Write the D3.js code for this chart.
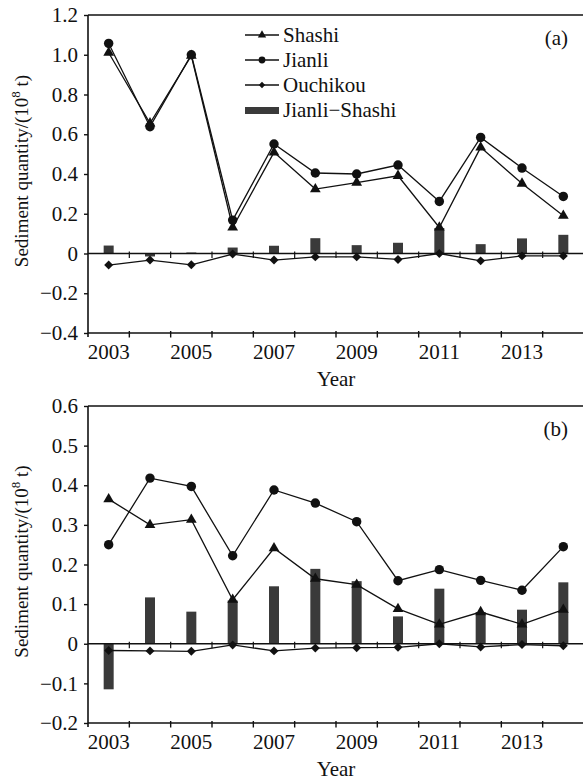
<!DOCTYPE html>
<html>
<head>
<meta charset="utf-8">
<script src="https://cdn.jsdelivr.net/npm/d3@7"></script>
<style>
  html, body { margin: 0; padding: 0; background: #fff; }
  svg { display: block; }
  svg text { font-family: "Liberation Serif", "Times New Roman", Times, serif; }
</style>
</head>
<body>
<svg id="chart" width="583" height="782"></svg>
<script>
// Annual sediment quantities (10^8 t) at three stations, 2003–2014
const years = [2003, 2004, 2005, 2006, 2007, 2008, 2009, 2010, 2011, 2012, 2013, 2014];
const labelYears = [2003, 2005, 2007, 2009, 2011, 2013];

// Panel (a)
const shashiA   = [1.01, 0.655, 0.995, 0.131, 0.509, 0.324, 0.357, 0.391, 0.131, 0.534, 0.352, 0.19];
const jianliA   = [1.057, 0.638, 1.0, 0.168, 0.551, 0.405, 0.40, 0.445, 0.262, 0.584, 0.43, 0.287];
const ouchikouA = [-0.058, -0.033, -0.057, -0.003, -0.033, -0.017, -0.017, -0.03, 0.0, -0.037, -0.012, -0.012];
const diffA     = [0.04, -0.015, 0.005, 0.03, 0.039, 0.077, 0.042, 0.054, 0.128, 0.047, 0.076, 0.094];
const yTicksA   = [-0.4, -0.2, 0, 0.2, 0.4, 0.6, 0.8, 1.0, 1.2];

// Panel (b)
const shashiB   = [0.365, 0.30, 0.313, 0.111, 0.241, 0.164, 0.149, 0.088, 0.049, 0.08, 0.049, 0.086];
const jianliB   = [0.25, 0.418, 0.397, 0.222, 0.388, 0.355, 0.308, 0.159, 0.187, 0.16, 0.135, 0.245];
const ouchikouB = [-0.017, -0.018, -0.019, -0.003, -0.018, -0.011, -0.01, -0.009, 0.0, -0.008, -0.002, -0.005];
const diffB     = [-0.115, 0.117, 0.081, 0.109, 0.145, 0.189, 0.158, 0.069, 0.139, 0.08, 0.086, 0.155];
const yTicksB   = [-0.2, -0.1, 0, 0.1, 0.2, 0.3, 0.4, 0.5, 0.6];

const seriesNames = ["Shashi", "Jianli", "Ouchikou", "Jianli\u2212Shashi"];

const FONT = '"Liberation Serif", "Times New Roman", Times, serif';
const INK = "#111";
const BAR = "#3a3a3a";

const svg = d3.select("#chart");
const x = d3.scaleBand().domain(years).range([88, 584]);
const cx = yr => x(yr) + x.bandwidth() / 2;
const boundaries = years.map(yr => x(yr)).concat([x.range()[1]]);

const fmt = v => (v === 0 ? "0" : (v < 0 ? "\u2212" : "") + d3.format(".1f")(Math.abs(v)));

// Marker shapes: triangle, filled circle, diamond (square turned 45°)
const markers = {
  tri:     { sym: d3.symbol().type(d3.symbolTriangle).size(50), rot: 0 },
  circle:  { sym: d3.symbol().type(d3.symbolCircle).size(70),   rot: 0 },
  diamond: { sym: d3.symbol().type(d3.symbolSquare).size(40),   rot: 45 }
};
const legendMarkers = {
  tri:     { sym: d3.symbol().type(d3.symbolTriangle).size(30), rot: 0 },
  circle:  { sym: d3.symbol().type(d3.symbolCircle).size(36),   rot: 0 },
  diamond: { sym: d3.symbol().type(d3.symbolSquare).size(20),   rot: 45 }
};

function drawMarkers(g, data, m, yScale) {
  g.selectAll(null).data(data).join("path")
    .attr("d", m.sym)
    .attr("transform", d => `translate(${cx(d.yr)},${yScale(d.v)}) rotate(${m.rot})`)
    .attr("fill", INK);
}

function panel(cfg) {
  const y = d3.scaleLinear().domain(cfg.domain).range([cfg.bottom, cfg.top]);
  const g = svg.append("g");
  const x0 = x.range()[0], x1 = x.range()[1];

  // Difference bars
  g.append("g").selectAll("rect")
    .data(years.map((yr, i) => ({ yr, v: cfg.diff[i] })))
    .join("rect")
    .attr("x", d => cx(d.yr) - 5)
    .attr("width", 10)
    .attr("y", d => y(Math.max(0, d.v)))
    .attr("height", d => Math.abs(y(d.v) - y(0)))
    .attr("fill", BAR);

  // Zero line with ticks at year boundaries
  g.append("line")
    .attr("x1", x0).attr("x2", x1).attr("y1", y(0)).attr("y2", y(0))
    .attr("stroke", INK).attr("stroke-width", 1.3);
  g.append("g").selectAll("line").data(boundaries.slice(1, -1)).join("line")
    .attr("x1", d => d).attr("x2", d => d)
    .attr("y1", y(0) - 2).attr("y2", y(0) + 4.5)
    .attr("stroke", INK).attr("stroke-width", 1.2);

  // Lines + markers
  const line = d3.line().x(d => cx(d.yr)).y(d => y(d.v));
  const series = [
    { vals: cfg.ouchikou, m: markers.diamond },
    { vals: cfg.shashi, m: markers.tri },
    { vals: cfg.jianli, m: markers.circle }
  ];
  series.forEach(s => {
    const data = years.map((yr, i) => ({ yr, v: s.vals[i] }));
    g.append("path").datum(data).attr("d", line)
      .attr("fill", "none").attr("stroke", INK).attr("stroke-width", 1.3);
    drawMarkers(g, data, s.m, y);
  });

  // Frame: left axis, top line, bottom axis
  g.append("line").attr("x1", x0).attr("x2", x0).attr("y1", cfg.top).attr("y2", cfg.bottom + 4)
    .attr("stroke", INK).attr("stroke-width", 1.6);
  g.append("line").attr("x1", x0).attr("x2", x1).attr("y1", cfg.top).attr("y2", cfg.top)
    .attr("stroke", INK).attr("stroke-width", 1.6);
  g.append("line").attr("x1", x0).attr("x2", x1).attr("y1", cfg.bottom).attr("y2", cfg.bottom)
    .attr("stroke", INK).attr("stroke-width", 1.6);
  g.append("g").selectAll("line").data(boundaries.slice(1)).join("line")
    .attr("x1", d => d).attr("x2", d => d)
    .attr("y1", cfg.bottom - 2).attr("y2", cfg.bottom + 4.5)
    .attr("stroke", INK).attr("stroke-width", 1.4);

  // Y axis ticks & labels
  const yAxis = d3.axisLeft(y).tickValues(cfg.yTicks).tickSize(4).tickSizeOuter(0).tickPadding(6)
    .tickFormat(fmt);
  const ya = g.append("g").attr("transform", `translate(${x0},0)`).call(yAxis);
  ya.select(".domain").remove();
  ya.selectAll(".tick line").attr("stroke", INK).attr("stroke-width", 1.4);
  ya.selectAll(".tick text").attr("font-family", FONT).attr("font-size", 21).attr("fill", INK);

  // X labels (odd years)
  const xAxis = d3.axisBottom(x).tickValues(labelYears).tickSize(0).tickPadding(11);
  const xa = g.append("g").attr("transform", `translate(0,${cfg.bottom})`).call(xAxis);
  xa.select(".domain").remove();
  xa.selectAll(".tick text").attr("font-family", FONT).attr("font-size", 21).attr("fill", INK);

  // Axis titles
  g.append("text")
    .attr("x", (x0 + x1) / 2).attr("y", cfg.bottom + 53)
    .attr("text-anchor", "middle").attr("font-family", FONT).attr("font-size", 21).attr("fill", INK)
    .text("Year");

  const t = g.append("text")
    .attr("transform", `translate(28,${(cfg.top + cfg.bottom) / 2 - 3}) rotate(-90)`)
    .attr("text-anchor", "middle").attr("font-family", FONT).attr("font-size", 19).attr("fill", INK);
  t.append("tspan").text("Sediment quantity/(10");
  t.append("tspan").attr("font-size", 13).attr("dy", -8).text("8");
  t.append("tspan").attr("dy", 8).text(" t)");

  // Panel tag
  g.append("text")
    .attr("x", 568).attr("y", cfg.top + 30)
    .attr("text-anchor", "end").attr("font-family", FONT).attr("font-size", 21).attr("fill", INK)
    .text(cfg.tag);

  return { g, y };
}

panel({
  top: 15, bottom: 333, domain: [-0.4, 1.2], yTicks: yTicksA,
  shashi: shashiA, jianli: jianliA, ouchikou: ouchikouA, diff: diffA, tag: "(a)"
});
panel({
  top: 406, bottom: 723, domain: [-0.2, 0.6], yTicks: yTicksB,
  shashi: shashiB, jianli: jianliB, ouchikou: ouchikouB, diff: diffB, tag: "(b)"
});

// Legend in panel (a)
const legend = svg.append("g").attr("transform", "translate(245,35)");
const legendKeys = [legendMarkers.tri, legendMarkers.circle, legendMarkers.diamond, null];
seriesNames.forEach((name, i) => {
  const row = legend.append("g").attr("transform", `translate(0,${i * 25})`);
  const m = legendKeys[i];
  if (m) {
    row.append("line").attr("x1", 0).attr("x2", 34).attr("stroke", INK).attr("stroke-width", 1.3);
    row.append("path").attr("d", m.sym).attr("transform", `translate(17,0) rotate(${m.rot})`).attr("fill", INK);
  } else {
    row.append("rect").attr("x", 0).attr("y", -3).attr("width", 34).attr("height", 7).attr("fill", BAR);
  }
  row.append("text").attr("x", 38).attr("y", 7)
    .attr("font-family", FONT).attr("font-size", 21).attr("fill", INK).text(name);
});
</script>
</body>
</html>
